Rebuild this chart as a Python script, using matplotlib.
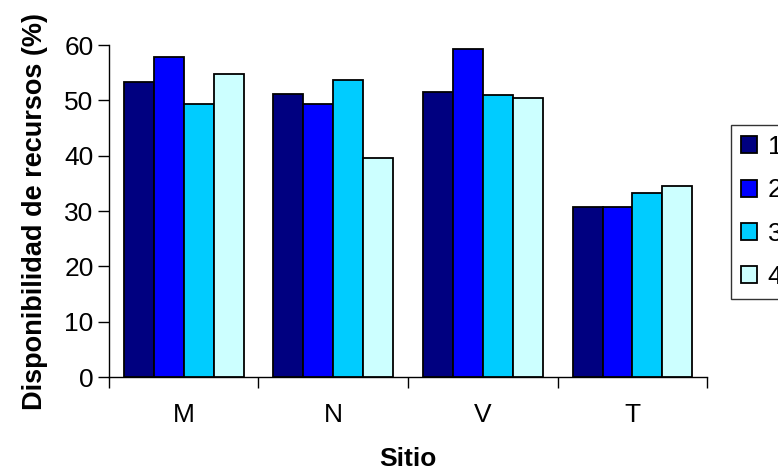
"""Disponibilidad de recursos por sitio (barras agrupadas)."""

import matplotlib

matplotlib.use("Agg")
import matplotlib.pyplot as plt
import numpy as np

sitios = ["M", "N", "V", "T"]
series = ["1", "2", "3", "4"]
serie_1 = [53.4, 51.1, 51.5, 30.7]
serie_2 = [57.8, 49.3, 59.3, 30.7]
serie_3 = [49.3, 53.7, 51.0, 33.3]
serie_4 = [54.8, 39.6, 50.4, 34.5]
colores = ["#000080", "#0000FF", "#00CCFF", "#CCFFFF"]

plt.rcParams["font.family"] = ["Liberation Sans", "DejaVu Sans"]

fig = plt.figure(figsize=(7.78, 4.74), dpi=100)
ax = fig.add_axes([0.140, 0.2046, 0.769, 0.7004])

x = np.arange(len(sitios))
width = 0.2
for i, (name, values) in enumerate(zip(series, [serie_1, serie_2, serie_3, serie_4])):
    ax.bar(x - 0.3 + i * width, values, width, color=colores[i], edgecolor="black",
           linewidth=1.3, label=name, zorder=3)

ax.set_xlim(-0.5, len(sitios) - 0.5)
ax.set_ylim(0, 60)
ax.set_yticks(range(0, 61, 10))
ax.tick_params(axis="y", labelsize=19, length=8, width=1, direction="out", pad=3)

ax.set_xticks(np.arange(len(sitios) + 1) - 0.5)
ax.set_xticklabels([])
ax.tick_params(axis="x", which="major", length=8, width=1, direction="out")
ax.set_xticks(x, minor=True)
ax.set_xticklabels(sitios, minor=True)
ax.tick_params(axis="x", which="minor", length=0, labelsize=19, pad=19)

for side in ["top", "right"]:
    ax.spines[side].set_visible(False)
for side in ["left", "bottom"]:
    ax.spines[side].set_color("#000000")
    ax.spines[side].set_linewidth(1)

ax.set_xlabel("Sitio", fontsize=19, fontweight="bold", labelpad=14)
ax.set_ylabel("Disponibilidad de recursos (%)", fontsize=19.5, fontweight="bold", labelpad=12)

leg = fig.legend(loc="upper left", bbox_to_anchor=(0.94, 0.736), fontsize=19,
                 frameon=True, fancybox=False, edgecolor="black", handlelength=0.6,
                 handleheight=0.6, handletextpad=0.4, labelspacing=0.73,
                 borderpad=0.38, borderaxespad=0)
leg.get_frame().set_linewidth(1)

fig.savefig("out.png", dpi=100)
